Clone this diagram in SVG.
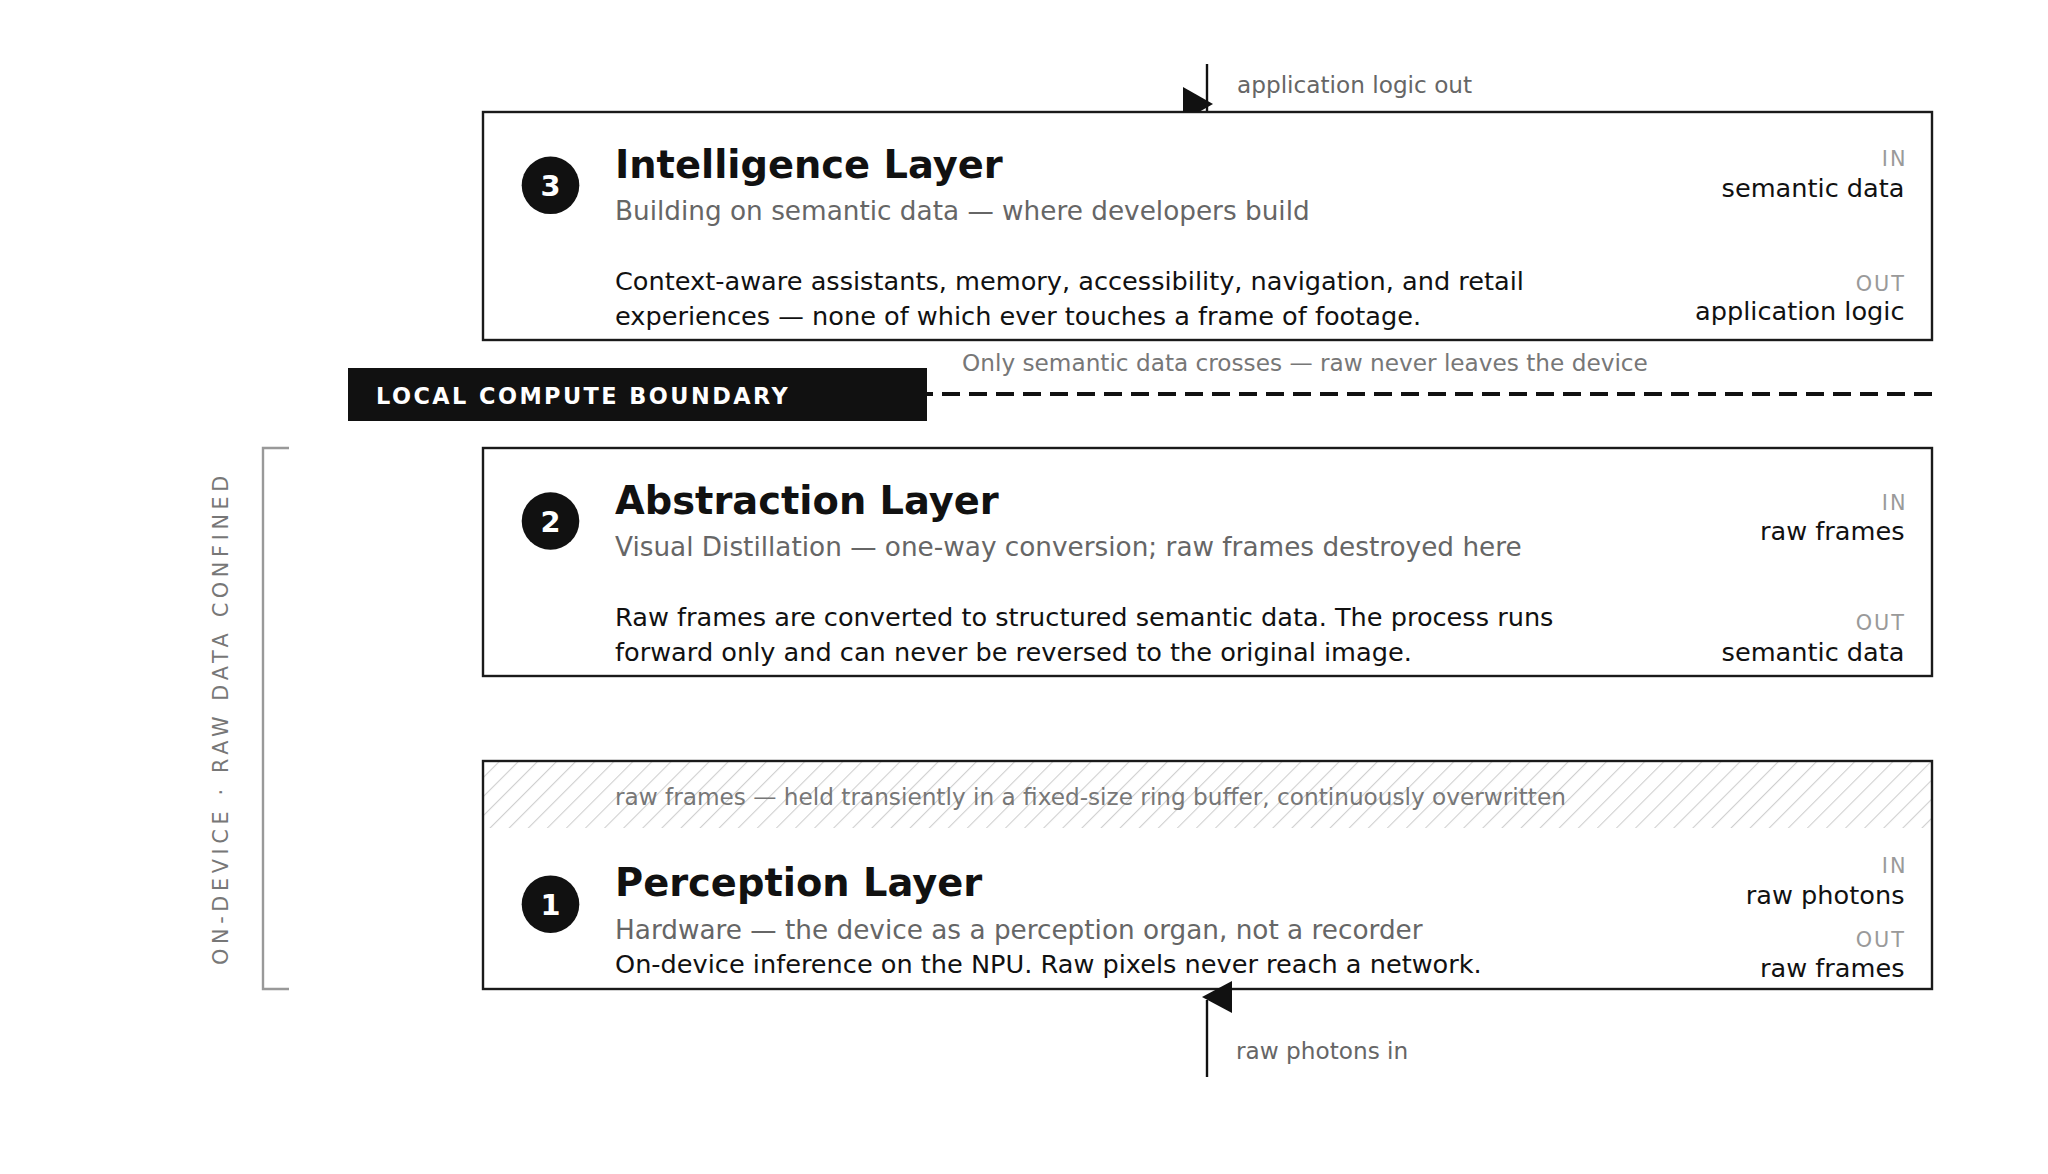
<svg xmlns="http://www.w3.org/2000/svg" width="2048" height="1174" viewBox="0 0 2048 1174">
  <style>
    text { font-family: "DejaVu Sans", "Liberation Sans", sans-serif; }
    .box { fill: #ffffff; stroke: #1a1a1a; stroke-width: 2.4; }
    .badge { fill: #111111; }
    .num { fill: #ffffff; font-size: 28.8px; font-weight: bold; text-anchor: middle; }
    .title { fill: #111111; font-size: 38.4px; font-weight: bold; }
    .sub { fill: #666666; font-size: 26.3px; }
    .body { fill: #111111; font-size: 25.6px; }
    .io { fill: #9a9a9a; font-size: 20.8px; letter-spacing: 2px; text-anchor: end; }
    .val { fill: #111111; font-size: 25.6px; text-anchor: end; }
    .note { fill: #777777; font-size: 23.2px; }
    .conn { stroke: #111111; stroke-width: 2.4; fill: none; }
    .head { fill: #111111; }
  </style>
  <defs>
    <pattern id="hatch" patternUnits="userSpaceOnUse" width="13.5" height="13.5" patternTransform="rotate(45)">
      <line x1="0" y1="0" x2="0" y2="13.5" stroke="#cfcfcf" stroke-width="2.2"/>
    </pattern>
  </defs>
  <rect width="2048" height="1174" fill="#ffffff"/>

  <!-- side bracket -->
  <g id="scope-bracket">
    <polyline points="289,448 263,448 263,989 289,989" fill="none" stroke="#999999" stroke-width="2.4"/>
    <text transform="translate(227.5,718) rotate(-90)" text-anchor="middle" fill="#777777" font-size="20.8" letter-spacing="4.63">ON-DEVICE · RAW DATA CONFINED</text>
  </g>

  <!-- Layer 3 -->
  <g id="layer3">
    <rect class="box" x="483" y="112" width="1449" height="228"/>
    <circle class="badge" cx="550.5" cy="185.3" r="28.8"/>
    <text class="num" x="550.5" y="195.8">3</text>
    <text class="title" x="615" y="178">Intelligence Layer</text>
    <text class="sub" x="615" y="220">Building on semantic data — where developers build</text>
    <text class="body" x="615" y="290">Context-aware assistants, memory, accessibility, navigation, and retail</text>
    <text class="body" x="615" y="325">experiences — none of which ever touches a frame of footage.</text>
    <text class="io" x="1907.5" y="166">IN</text>
    <text class="val" x="1904.5" y="197">semantic data</text>
    <text class="io" x="1906" y="291">OUT</text>
    <text class="val" x="1904.5" y="320">application logic</text>
  </g>

  <!-- Boundary -->
  <g id="boundary">
    <line x1="348" y1="394" x2="1932" y2="394" stroke="#111111" stroke-width="4" stroke-dasharray="18 9"/>
    <rect x="348" y="368" width="579" height="53" fill="#111111"/>
    <text x="376" y="404" fill="#ffffff" font-size="22.4" font-weight="bold" letter-spacing="2.45">LOCAL COMPUTE BOUNDARY</text>
    <text class="note" x="962" y="371">Only semantic data crosses — raw never leaves the device</text>
  </g>

  <!-- Layer 2 -->
  <g id="layer2">
    <rect class="box" x="483" y="448" width="1449" height="228"/>
    <circle class="badge" cx="550.5" cy="521" r="28.8"/>
    <text class="num" x="550.5" y="531.5">2</text>
    <text class="title" x="615" y="514">Abstraction Layer</text>
    <text class="sub" x="615" y="556">Visual Distillation — one-way conversion; raw frames destroyed here</text>
    <text class="body" x="615" y="626">Raw frames are converted to structured semantic data. The process runs</text>
    <text class="body" x="615" y="661">forward only and can never be reversed to the original image.</text>
    <text class="io" x="1907.5" y="510">IN</text>
    <text class="val" x="1904.5" y="540">raw frames</text>
    <text class="io" x="1906" y="630">OUT</text>
    <text class="val" x="1904.5" y="661">semantic data</text>
  </g>

  <!-- Layer 1 -->
  <g id="layer1">
    <rect x="483" y="761" width="1449" height="228" fill="#ffffff"/>
    <rect x="483" y="761" width="1449" height="67" fill="url(#hatch)"/>
    <rect x="483" y="761" width="1449" height="228" fill="none" stroke="#1a1a1a" stroke-width="2.4"/>
    <text class="note" x="615" y="805">raw frames — held transiently in a fixed-size ring buffer, continuously overwritten</text>
    <circle class="badge" cx="550.5" cy="904.2" r="28.8"/>
    <text class="num" x="550.5" y="914.7">1</text>
    <text class="title" x="615" y="896">Perception Layer</text>
    <text class="sub" x="615" y="939">Hardware — the device as a perception organ, not a recorder</text>
    <text class="body" x="615" y="973">On-device inference on the NPU. Raw pixels never reach a network.</text>
    <text class="io" x="1907.5" y="873">IN</text>
    <text class="val" x="1904.5" y="904">raw photons</text>
    <text class="io" x="1906" y="947">OUT</text>
    <text class="val" x="1904.5" y="977">raw frames</text>
  </g>

  <!-- Connectors -->
  <g id="connectors">
    <line class="conn" x1="1207" y1="64" x2="1207" y2="111"/>
    <polygon class="head" points="1183,87 1213,104 1199,112 1183,112"/>
    <text x="1237" y="93" fill="#666666" font-size="23.2">application logic out</text>
    <line class="conn" x1="1207" y1="1077" x2="1207" y2="1000"/>
    <polygon class="head" points="1202,997 1232,981 1232,1013"/>
    <text x="1236" y="1059" fill="#666666" font-size="23.2">raw photons in</text>
  </g>
</svg>
